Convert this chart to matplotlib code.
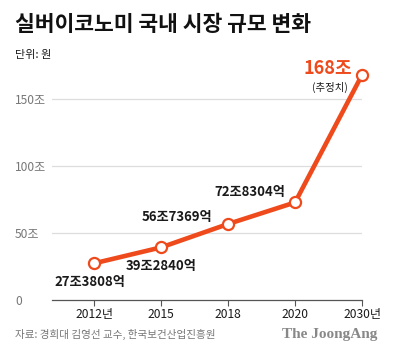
"""
Silver economy domestic market size, line chart with labeled points.
"""
import matplotlib
matplotlib.use("Agg")
import matplotlib.pyplot as plt

KFONT = ["Noto Sans CJK KR", "DejaVu Sans"]
plt.rcParams["font.family"] = KFONT

ORANGE = "#EF4A1C"
DARK, GRAY, LIGHT = "#1A1A1A", "#777777", "#DDDDDD"

years = ["2012년", "2015", "2018", "2020", "2030년"]
values = [27.3808, 39.2840, 56.7369, 72.8304, 168.0]
point_labels = ["27조3808억", "39조2840억", "56조7369억", "72조8304억", "168조"]
# offsets of each label from its point, in points
label_offsets = [(-3, -13.7), (0, -13.4), (-36.5, 5.2), (-32.5, 7.5), (-7, 4.4)]
yticks = [0, 50, 100, 150]
ytick_labels = ["0", "50조", "100조", "150조"]

fig = plt.figure(figsize=(4.0, 3.55), dpi=100)
ax = fig.add_axes([0.13, 0.155, 0.775, 0.679])

xs = list(range(len(years)))
ax.plot(xs, values, color=ORANGE, lw=3.3, marker="o", ms=8, mfc="white",
        mec=ORANGE, mew=1.6, clip_on=False, zorder=3, solid_capstyle="round")

ax.set_xlim(-0.63, 4)
ax.set_ylim(0, 180)

for v in yticks[1:]:
    ax.axhline(v, color=LIGHT, lw=0.9, zorder=0)

for s in ["top", "right", "left"]:
    ax.spines[s].set_visible(False)
ax.spines["bottom"].set_color("#555555")
ax.spines["bottom"].set_linewidth(0.9)

ax.set_xticks(xs)
ax.set_xticklabels(years, fontsize=8.7, color=DARK)
ax.tick_params(axis="x", length=4.5, width=0.8, color="#555555", pad=1.5)

ax.set_yticks(yticks)
ax.set_yticklabels(ytick_labels, fontsize=8.7, color=GRAY)
ax.tick_params(axis="y", length=0, pad=26.5)
for lab in ax.get_yticklabels():
    lab.set_ha("left")

for i, (txt, off) in enumerate(zip(point_labels, label_offsets)):
    if i == len(point_labels) - 1:
        ax.annotate(txt, (xs[i], values[i]), xytext=off, textcoords="offset points",
                    ha="right", va="center", fontsize=13, fontweight="heavy",
                    color=ORANGE, annotation_clip=False)
    else:
        ax.annotate(txt, (xs[i], values[i]), xytext=off, textcoords="offset points",
                    ha="center", va="center", fontsize=9.5, fontweight="heavy",
                    color=DARK, annotation_clip=False)
ax.annotate("(추정치)", (xs[-1], values[-1]), xytext=(-23, -8.8), textcoords="offset points",
            ha="center", va="center", fontsize=7.5, color=DARK, annotation_clip=False)

fig.text(0.0375, 0.93, "실버이코노미 국내 시장 규모 변화", fontsize=15.5,
         fontweight="heavy", color="#111111", va="center", ha="left")
fig.text(0.0375, 0.845, "단위: 원", fontsize=8, color=DARK, va="center", ha="left")
fig.text(0.0375, 0.059, "자료: 경희대 김영선 교수, 한국보건산업진흥원", fontsize=7.6,
         color=GRAY, va="center", ha="left")
fig.text(0.943, 0.059, "The JoongAng", fontsize=11, fontweight="bold",
         family=["Liberation Serif", "DejaVu Serif"], color="#888888",
         va="center", ha="right")

fig.savefig("out.png", dpi=100, facecolor="white")
